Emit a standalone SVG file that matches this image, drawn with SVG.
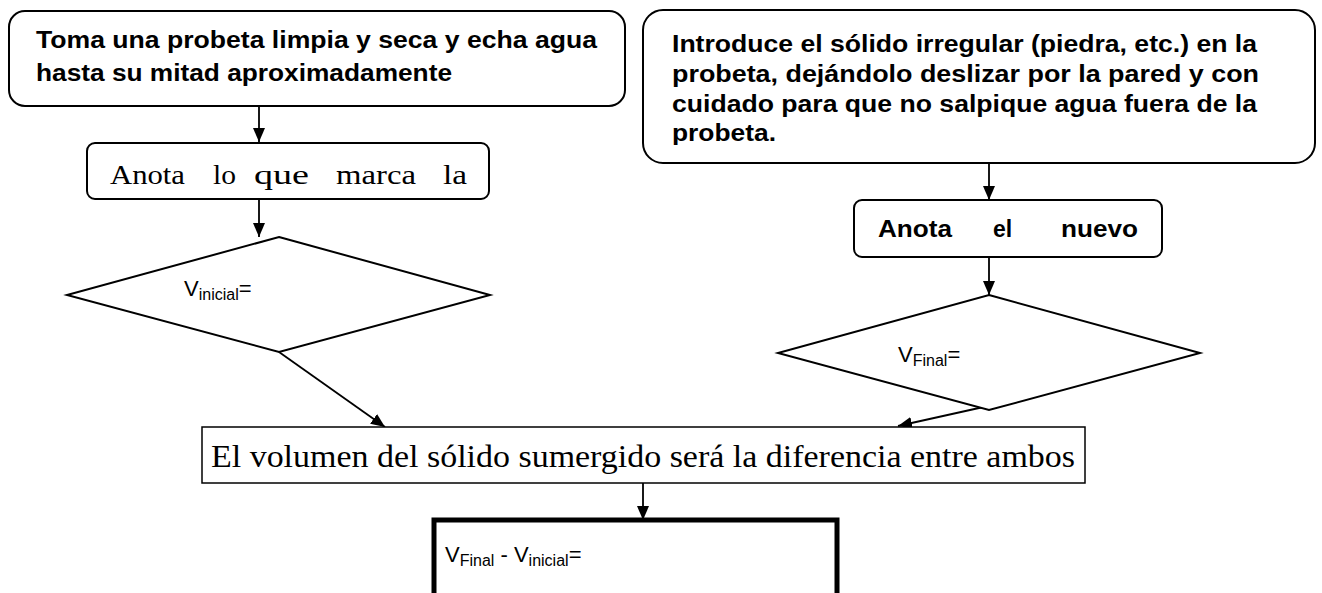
<svg xmlns="http://www.w3.org/2000/svg" width="1322" height="593" viewBox="0 0 1322 593">
<style>
.bx{fill:#fff;stroke:#000;stroke-width:2}
.dm{fill:#fff;stroke:#000;stroke-width:2}
.cn{stroke:#000;stroke-width:1.8;fill:none}
.sb{font-family:"Liberation Sans",Arial,sans-serif;font-weight:bold;font-size:23px;fill:#000}
.sr{font-family:"Liberation Serif","Times New Roman",serif;fill:#000}
.ss{font-family:"Liberation Sans",Arial,sans-serif;font-size:22px;fill:#000}
</style>
<defs>
<marker id="ah" markerWidth="14" markerHeight="12" refX="14" refY="6" orient="auto" markerUnits="userSpaceOnUse">
<path d="M0,0 L14,6 L0,12 Z" fill="#000"/>
</marker>
<clipPath id="c2"><rect x="643" y="10" width="672" height="135"/></clipPath>
</defs>
<rect width="1322" height="593" fill="#fff"/>
<g id="connectors">
<line class="cn" x1="259" y1="106" x2="259" y2="142" marker-end="url(#ah)"/>
<line class="cn" x1="259" y1="199" x2="259" y2="237" marker-end="url(#ah)"/>
<line class="cn" x1="279" y1="352" x2="385" y2="427" marker-end="url(#ah)"/>
<line class="cn" x1="989" y1="163" x2="989" y2="200" marker-end="url(#ah)"/>
<line class="cn" x1="989" y1="257" x2="989" y2="295" marker-end="url(#ah)"/>
<line class="cn" x1="988" y1="406" x2="898" y2="426" marker-end="url(#ah)"/>
<line class="cn" x1="643" y1="483" x2="643" y2="520" marker-end="url(#ah)"/>
</g>
<g id="n1">
<rect class="bx" x="9" y="11" width="616" height="95" rx="16"/>
<text class="sb" x="36" y="48" textLength="561" lengthAdjust="spacingAndGlyphs">Toma una probeta limpia y seca y echa agua</text>
<text class="sb" x="36" y="81" textLength="416" lengthAdjust="spacingAndGlyphs">hasta su mitad aproximadamente</text>
</g>
<g id="n2">
<rect class="bx" x="87" y="143" width="402" height="56" rx="8"/>
<g class="sr" font-size="28">
<text x="110" y="184" textLength="75" lengthAdjust="spacingAndGlyphs">Anota</text>
<text x="213" y="184" textLength="23" lengthAdjust="spacingAndGlyphs">lo</text>
<text x="254" y="184" textLength="55" lengthAdjust="spacingAndGlyphs">que</text>
<text x="336" y="184" textLength="80" lengthAdjust="spacingAndGlyphs">marca</text>
<text x="443" y="184" textLength="24" lengthAdjust="spacingAndGlyphs">la</text>
</g>
</g>
<g id="n3">
<polygon class="dm" points="279,237 490,295 279,352 67,295"/>
<text class="ss" x="184" y="296">V<tspan font-size="16" dy="4">inicial</tspan><tspan dy="-4">=</tspan></text>
</g>
<g id="n4">
<rect class="bx" x="643" y="10" width="672" height="153" rx="20"/>
<g clip-path="url(#c2)">
<text class="sb" x="672" y="52" textLength="585" lengthAdjust="spacingAndGlyphs">Introduce el sólido irregular (piedra, etc.) en la</text>
<text class="sb" x="672" y="82" textLength="587" lengthAdjust="spacingAndGlyphs">probeta, dejándolo deslizar por la pared y con</text>
<text class="sb" x="672" y="112" textLength="585" lengthAdjust="spacingAndGlyphs">cuidado para que no salpique agua fuera de la</text>
<text class="sb" x="672" y="141" textLength="104" lengthAdjust="spacingAndGlyphs">probeta.</text>
</g>
</g>
<g id="n5">
<rect class="bx" x="854" y="200" width="308" height="57" rx="8"/>
<text class="sb" x="878" y="237" textLength="74" lengthAdjust="spacingAndGlyphs">Anota</text>
<text class="sb" x="993" y="237">el</text>
<text class="sb" x="1061" y="237" textLength="77" lengthAdjust="spacingAndGlyphs">nuevo</text>
</g>
<g id="n6">
<polygon class="dm" points="989,295 1200,353 989,410 778,353"/>
<text class="ss" x="898" y="362">V<tspan font-size="16" dy="4">Final</tspan><tspan dy="-4">=</tspan></text>
</g>
<g id="n7">
<rect x="202" y="427" width="883" height="56" fill="#fff" stroke="#000" stroke-width="1.5"/>
<text class="sr" font-size="31" x="211" y="467" textLength="864" lengthAdjust="spacingAndGlyphs">El volumen del sólido sumergido será la diferencia entre ambos</text>
</g>
<g id="n8">
<rect x="434" y="520" width="403" height="90" fill="#fff" stroke="#000" stroke-width="5"/>
<text class="ss" x="445" y="562">V<tspan font-size="16" dy="4">Final</tspan><tspan dy="-4"> - V</tspan><tspan font-size="16" dy="4">inicial</tspan><tspan dy="-4">=</tspan></text>
</g>
</svg>
